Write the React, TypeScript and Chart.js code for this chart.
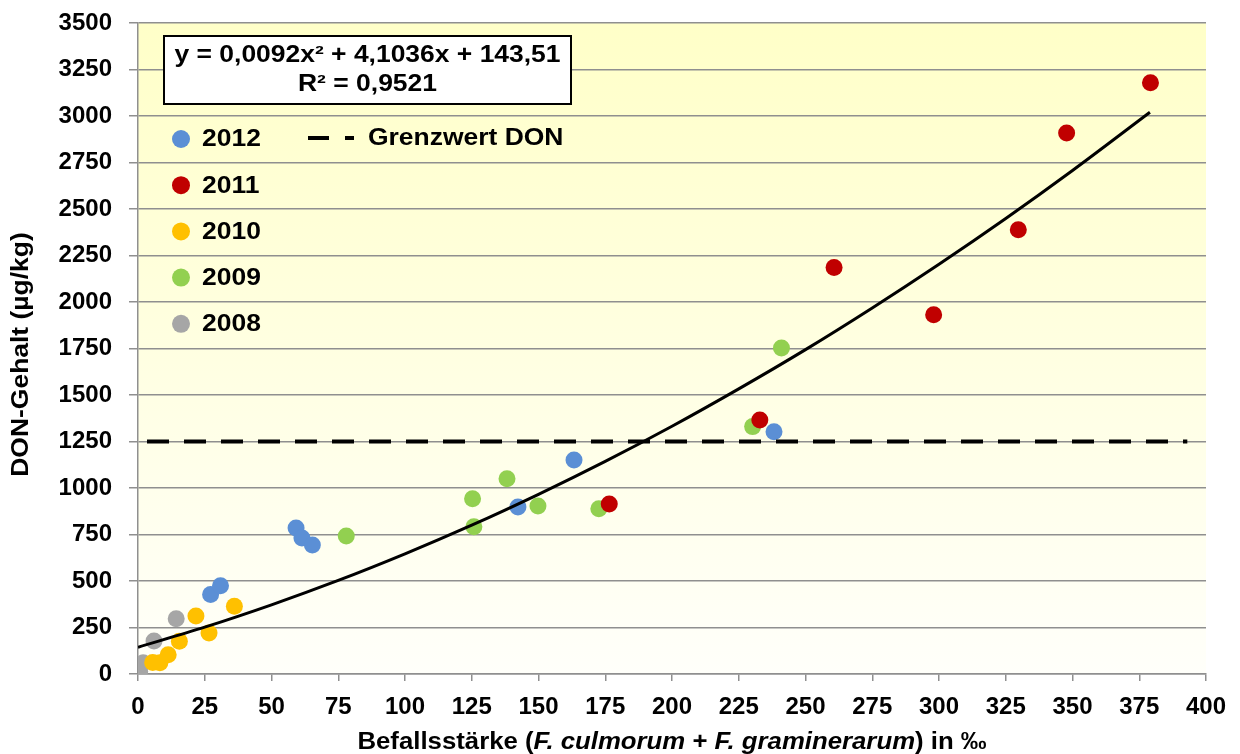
import React, { useEffect, useRef } from 'react';
import { Chart, registerables } from 'chart.js';

Chart.register(...registerables);

const FONT = "'Liberation Sans', Arial, Helvetica, sans-serif";

// Axis ranges / ticks
const xMin = 0;
const xMax = 400;
const xStep = 25;
const yMin = 0;
const yMax = 3500;
const yStep = 250;

// Series (Befallsstärke ‰, DON µg/kg)
const x2012 = [27.2, 30.9, 59.2, 61.4, 65.3, 142.3, 163.3, 238.2];
const y2012 = [428, 474, 785, 731, 694, 898, 1150, 1303];

const x2011 = [176.5, 232.9, 260.7, 298.0, 329.7, 347.8, 379.2];
const y2011 = [914, 1366, 2186, 1932, 2389, 2908, 3179];

const x2010 = [5.5, 8.2, 11.3, 15.5, 21.7, 26.6, 36.1];
const y2010 = [62, 60, 104, 176, 312, 220, 364];

const x2009 = [78.0, 125.3, 125.8, 138.2, 149.8, 172.6, 230.2, 241.0];
const y2009 = [742, 942, 792, 1050, 903, 889, 1330, 1753];

const x2008 = [0.6, 1.9, 6.0, 14.3];
const y2008 = [15, 60, 177, 297];

const seriesNames = ['2012', '2011', '2010', '2009', '2008'];
const seriesColors = ['#5B8FD5', '#C00000', '#FFC000', '#92D050', '#A6A6A6'];

// Polynomial trend line
const trendX = [0, 25, 50, 75, 100, 125, 150, 175, 200, 225, 250, 275, 300, 325, 350, 379];
const trendY = [144, 252, 372, 503, 646, 800, 966, 1143, 1332, 1533, 1744, 1968, 2203, 2449, 2707, 3020];

// Limit value line
const limitX = [0, 393];
const limitY = [1250, 1250];
const limitLabel = 'Grenzwert DON';

const equationLines = ['y = 0,0092x² + 4,1036x + 143,51', 'R² = 0,9521'];
const yTitle = 'DON-Gehalt (µg/kg)';
const xTitleParts = [
  { text: 'Befallsstärke (', italic: false },
  { text: 'F. culmorum', italic: true },
  { text: ' + ', italic: false },
  { text: 'F. graminerarum', italic: true },
  { text: ') in ‰', italic: false },
];

const toPoints = (xs: number[], ys: number[]) => xs.map((x, i) => ({ x, y: ys[i] }));

function drawText(ctx: CanvasRenderingContext2D, text: string, x: number, y: number, align: CanvasTextAlign, font: string, sx = 1.13) {
  ctx.save();
  ctx.font = font;
  ctx.translate(x, y);
  ctx.scale(sx, 1);
  ctx.textAlign = align;
  ctx.textBaseline = 'middle';
  ctx.fillStyle = '#000';
  ctx.fillText(text, 0, 0);
  ctx.restore();
}

const decorPlugin = {
  id: 'decor',
  beforeDraw(chart: any) {
    const { ctx, chartArea } = chart;
    ctx.save();
    ctx.fillStyle = '#ffffff';
    ctx.fillRect(0, 0, chart.width, chart.height);
    const g = ctx.createLinearGradient(0, chartArea.top, 0, chartArea.bottom);
    g.addColorStop(0, '#FFFFC8');
    g.addColorStop(1, '#FFFFFA');
    ctx.fillStyle = g;
    ctx.fillRect(chartArea.left, chartArea.top, chartArea.right - chartArea.left, chartArea.bottom - chartArea.top);
    ctx.restore();
  },
  afterDraw(chart: any) {
    const { ctx, chartArea } = chart;
    const bold = `bold 23px ${FONT}`;
    const boldIt = `italic bold 23px ${FONT}`;

    // Equation box
    ctx.save();
    ctx.fillStyle = '#ffffff';
    ctx.fillRect(164, 36, 407, 68);
    ctx.strokeStyle = '#000';
    ctx.lineWidth = 2;
    ctx.strokeRect(164, 36, 407, 68);
    ctx.restore();
    drawText(ctx, equationLines[0], 367.5, 56, 'center', bold, 1.15);
    drawText(ctx, equationLines[1], 367.5, 85, 'center', bold, 1.15);

    // Legend (series)
    seriesNames.forEach((name, i) => {
      const cy = 139 + i * 46.2;
      ctx.save();
      ctx.beginPath();
      ctx.arc(181, cy, 9, 0, Math.PI * 2);
      ctx.fillStyle = seriesColors[i];
      ctx.fill();
      ctx.restore();
      drawText(ctx, name, 202, cy + 1, 'left', bold, 1.15);
    });
    // Legend (limit line)
    ctx.save();
    ctx.strokeStyle = '#000';
    ctx.lineWidth = 4;
    ctx.beginPath();
    ctx.moveTo(308, 138);
    ctx.lineTo(329, 138);
    ctx.moveTo(345, 138);
    ctx.lineTo(354, 138);
    ctx.stroke();
    ctx.restore();
    drawText(ctx, limitLabel, 368, 139, 'left', bold, 1.15);

    // Y title
    ctx.save();
    ctx.translate(22, (chartArea.top + chartArea.bottom) / 2 + 6);
    ctx.rotate(-Math.PI / 2);
    drawText(ctx, yTitle, 0, 0, 'center', bold, 1.15);
    ctx.restore();

    // X title with italic parts
    ctx.save();
    const sx = 1.12;
    let total = 0;
    const widths = xTitleParts.map((p) => {
      ctx.font = p.italic ? boldIt : bold;
      const w = ctx.measureText(p.text).width * sx;
      total += w;
      return w;
    });
    let x = (chartArea.left + chartArea.right) / 2 - total / 2;
    xTitleParts.forEach((p, i) => {
      drawText(ctx, p.text, x, 743, 'left', p.italic ? boldIt : bold, sx);
      x += widths[i];
    });
    ctx.restore();
  },
};

export default function App() {
  const ref = useRef<HTMLCanvasElement | null>(null);

  useEffect(() => {
    if (!ref.current) return;
    const gridColor = '#8f8f8f';
    const scatter = (i: number, xs: number[], ys: number[]) => ({
      label: seriesNames[i],
      data: toPoints(xs, ys),
      backgroundColor: seriesColors[i],
      borderColor: seriesColors[i],
      borderWidth: 0,
      pointRadius: 8.5,
      pointHoverRadius: 8.5,
      showLine: false,
    });
    const chart = new Chart(ref.current, {
      type: 'scatter',
      data: {
        datasets: [
          {
            label: limitLabel,
            data: toPoints(limitX, limitY),
            showLine: true,
            borderColor: '#000',
            borderWidth: 4,
            borderDash: [22, 15],
            borderDashOffset: 28,
            pointRadius: 0,
            borderCapStyle: 'butt',
          },
          {
            label: 'Trend',
            data: toPoints(trendX, trendY),
            showLine: true,
            borderColor: '#000',
            borderWidth: 3,
            cubicInterpolationMode: 'monotone',
            pointRadius: 0,
          },
          scatter(0, x2012, y2012),
          scatter(1, x2011, y2011),
          scatter(2, x2010, y2010),
          scatter(3, x2009, y2009),
          scatter(4, x2008, y2008),
        ] as any,
      },
      options: {
        responsive: false,
        animation: false,
        devicePixelRatio: 1,
        layout: { padding: { left: 0, right: 34, top: 23, bottom: 0 } },
        plugins: {
          legend: { display: false },
          tooltip: { enabled: false },
        },
        scales: {
          x: {
            type: 'linear',
            min: xMin,
            max: xMax,
            afterFit: (s: any) => {
              s.height = 80;
              s.paddingLeft = 0;
              s.paddingRight = 0;
            },
            ticks: {
              stepSize: xStep,
              autoSkip: false,
              maxRotation: 0,
              padding: 12,
              color: '#000',
              font: { family: FONT, size: 24, weight: 'bold' },
              callback: (v: any) => String(v),
            },
            grid: {
              drawOnChartArea: false,
              drawTicks: true,
              tickLength: 7,
              color: gridColor,
              lineWidth: 1.5,
            },
            border: { display: true, color: gridColor, width: 1.5 },
          },
          y: {
            type: 'linear',
            min: yMin,
            max: yMax,
            afterFit: (s: any) => {
              s.width = 138;
              s.paddingTop = 0;
              s.paddingBottom = 0;
            },
            ticks: {
              stepSize: yStep,
              autoSkip: false,
              padding: 17,
              color: '#000',
              font: { family: FONT, size: 24, weight: 'bold' },
              callback: (v: any) => String(v),
            },
            grid: {
              drawOnChartArea: true,
              drawTicks: true,
              tickLength: 9,
              color: gridColor,
              lineWidth: 1.5,
            },
            border: { display: true, color: gridColor, width: 1.5 },
          },
        },
      } as any,
      plugins: [decorPlugin],
    });
    return () => chart.destroy();
  }, []);

  return (
    <div style={{ position: 'absolute', left: 0, top: 0, width: 1240, height: 754 }}>
      <canvas ref={ref} width={1240} height={754} />
    </div>
  );
}
